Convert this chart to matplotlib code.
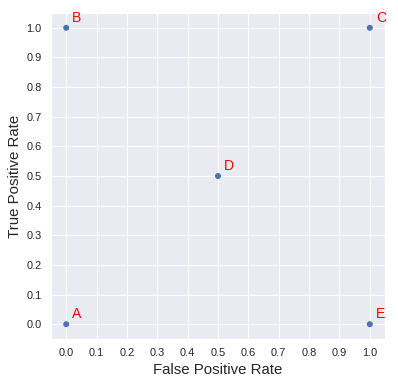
import matplotlib
matplotlib.use("Agg")
import matplotlib.pyplot as plt
import seaborn as sns

labels = ["A", "B", "C", "D", "E"]
fpr = [0.0, 0.0, 1.0, 0.5, 1.0]
tpr = [0.0, 1.0, 1.0, 0.5, 0.0]
ticks = [0.0, 0.1, 0.2, 0.3, 0.4, 0.5, 0.6, 0.7, 0.8, 0.9, 1.0]

sns.set_theme()
plt.rcParams['font.family'] = ['Liberation Sans', 'DejaVu Sans']

fig = plt.figure(figsize=(398/72, 384/72), dpi=72)
ax = fig.add_axes([51/398, 1-339/384, (385-51)/398, (339-13)/384])
ax.scatter(fpr, tpr, color="#4C72B0", s=36, edgecolor="none")
for l, x, y in zip(labels, fpr, tpr):
    ax.text(x + 0.02, y + 0.02, l, color="red", fontsize=14)
ax.set_xticks(ticks)
ax.set_yticks(ticks)
ax.tick_params(labelsize=11)
ax.set_xlabel("False Positive Rate", fontsize=15)
ax.set_ylabel("True Positive Rate", fontsize=15)
fig.savefig("out.png", dpi=72)
